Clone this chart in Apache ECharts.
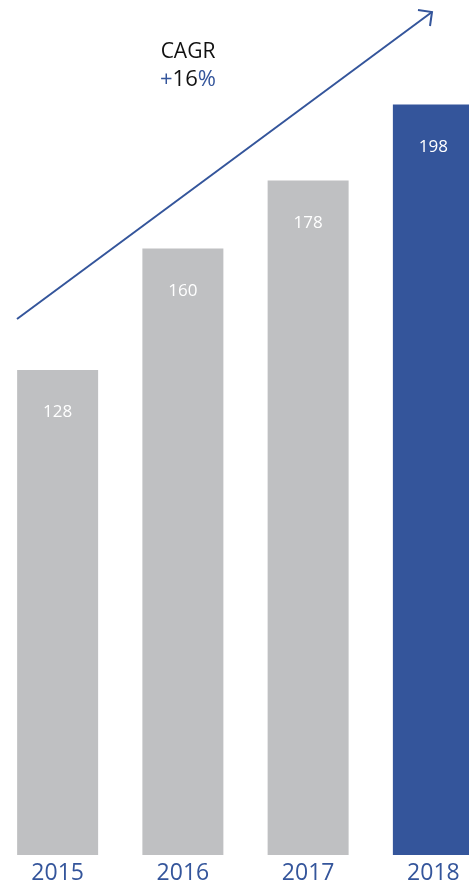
<!DOCTYPE html>
<html>
<head>
<meta charset="utf-8">
<script src="https://cdn.jsdelivr.net/npm/echarts@6/dist/echarts.min.js"></script>
<style>
  html, body { margin: 0; padding: 0; background: #fff; }
  #chart { width: 469px; height: 885px; }
</style>
</head>
<body>
<div id="chart"></div>
<script>
// Yearly values
const years = ['2015', '2016', '2017', '2018'];
const values = [128, 160, 178, 198];
const cagrLabel = ['+', '16', '%'];

const GRAY = '#bfc0c2';
const BLUE = '#34559b';
const FONT = '"Open Sans", "Noto Sans", sans-serif';

const chart = echarts.init(document.getElementById('chart'));

chart.setOption({
  animation: false,
  // the plot runs a little past the right edge so the last bar is cut off
  grid: {
    left: -5, width: 501, top: 97, bottom: 30,
    containLabel: false, outerBoundsMode: 'none'
  },
  xAxis: {
    type: 'category',
    data: years,
    axisLine: { show: false },
    axisTick: { show: false },
    axisLabel: { color: BLUE, fontSize: 23, fontFamily: FONT, margin: 7 }
  },
  yAxis: {
    type: 'value',
    min: 0,
    max: 200,
    show: false,
    splitLine: { show: false }
  },
  series: [{
    type: 'bar',
    barWidth: 81,
    data: values.map((v, i) => ({
      value: v,
      itemStyle: { color: i === values.length - 1 ? BLUE : GRAY }
    })),
    label: {
      show: true,
      position: 'insideTop',
      distance: 34,
      color: '#fff',
      fontSize: 17,
      fontFamily: FONT
    }
  }],
  graphic: [
    // growth arrow
    {
      type: 'line',
      shape: { x1: 17, y1: 319, x2: 432, y2: 12 },
      style: { stroke: BLUE, lineWidth: 2 }
    },
    {
      type: 'polyline',
      shape: { points: [[418, 10], [432, 12], [430, 26]] },
      style: { stroke: BLUE, lineWidth: 2, fill: null }
    },
    {
      type: 'text',
      x: 188, y: 52,
      style: {
        text: 'CAGR',
        align: 'center', verticalAlign: 'middle',
        fontSize: 21, fontFamily: FONT, fill: '#111'
      }
    },
    {
      type: 'text',
      x: 188, y: 80,
      style: {
        text: '{b|' + cagrLabel[0] + '}{k|' + cagrLabel[1] + '}{b|' + cagrLabel[2] + '}',
        align: 'center', verticalAlign: 'middle',
        rich: {
          b: { fontSize: 22, fontFamily: FONT, fill: BLUE },
          k: { fontSize: 22, fontFamily: FONT, fill: '#111' }
        }
      }
    }
  ]
});
</script>
</body>
</html>
